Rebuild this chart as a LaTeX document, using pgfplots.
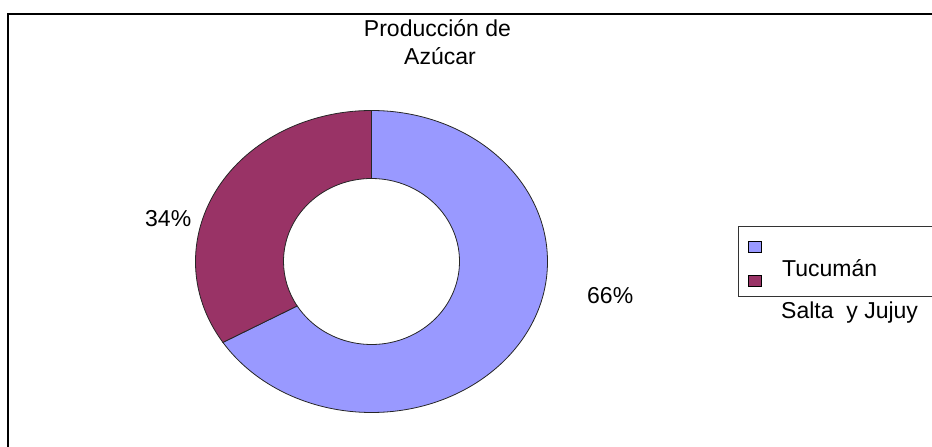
\documentclass[border=0pt]{standalone}
\usepackage{pgfplots}
\usepackage{pgfplotstable}
\pgfplotsset{compat=1.18}
\usetikzlibrary{calc}
\usepackage{fontspec}
\setmainfont{Liberation Sans}
\definecolor{tuc}{HTML}{9999FF}
\definecolor{salta}{HTML}{993366}
\pgfplotstableread{
name value
Tucuman 66
Salta 34
}\datatable
\begin{document}
\begin{tikzpicture}
\pgfplotstablegetelem{0}{value}\of\datatable \let\vA\pgfplotsretval
\pgfplotstablegetelem{1}{value}\of\datatable \let\vB\pgfplotsretval
\pgfmathsetmacro{\aStart}{90}
\pgfmathsetmacro{\aMid}{90-3.6*\vA}
\pgfmathsetmacro{\aEnd}{\aMid-3.6*\vB}
\begin{axis}[
  width=932bp, height=447bp, scale only axis,
  xmin=0, xmax=932, ymin=0, ymax=447,
  axis lines=none, clip=false,
]
\coordinate (bl) at (axis cs:0,0);
\coordinate (tr) at (axis cs:932,447);
\def\cx{371.5}\def\cy{185.5}
\def\ro{176}\def\rq{151}
\def\ri{88}\def\rj{83}
% Tucuman slice
\filldraw[fill=tuc, draw=black!85, line width=0.8pt]
  ($(axis cs:\cx,\cy)+(\aStart:{\ro bp} and {\rq bp})$)
  arc[start angle=\aStart, end angle=\aMid, x radius=\ro, y radius=\rq]
  -- ($(axis cs:\cx,\cy)+(\aMid:{\ri bp} and {\rj bp})$)
  arc[start angle=\aMid, end angle=\aStart, x radius=\ri, y radius=\rj]
  -- cycle;
% Salta slice
\filldraw[fill=salta, draw=black!85, line width=0.8pt]
  ($(axis cs:\cx,\cy)+(\aMid:{\ro bp} and {\rq bp})$)
  arc[start angle=\aMid, end angle=\aEnd, x radius=\ro, y radius=\rq]
  -- ($(axis cs:\cx,\cy)+(\aEnd:{\ri bp} and {\rj bp})$)
  arc[start angle=\aEnd, end angle=\aMid, x radius=\ri, y radius=\rj]
  -- cycle;
% frame
\draw[line width=2bp] (axis cs:8,0) -- (axis cs:8,433) -- (axis cs:932,433);
% legend box
\draw[line width=0.8bp, black!80] (axis cs:932,221) -- (axis cs:738,221) -- (axis cs:738,151) -- (axis cs:932,151);
\filldraw[fill=tuc, draw=black, line width=0.8bp] (axis cs:748,195) rectangle (axis cs:761,206);
\filldraw[fill=salta, draw=black, line width=0.8bp] (axis cs:748,161) rectangle (axis cs:761,172);
% texts
\node[anchor=base, inner sep=0pt, font=\fontsize{23bp}{28bp}\selectfont] at (axis cs:437.5,410) {Producción de};
\node[anchor=base, inner sep=0pt, font=\fontsize{23bp}{28bp}\selectfont] at (axis cs:440,382) {Azúcar};
\node[anchor=base west, inner sep=0pt, font=\fontsize{23bp}{28bp}\selectfont] at (axis cs:782,170) {Tucumán};
\node[anchor=base west, inner sep=0pt, font=\fontsize{23bp}{28bp}\selectfont] at (axis cs:781,128) {Salta~~y Jujuy};
\node[anchor=base west, inner sep=0pt, font=\fontsize{23bp}{28bp}\selectfont] at (axis cs:145,220) {34\%};
\node[anchor=base west, inner sep=0pt, font=\fontsize{23bp}{28bp}\selectfont] at (axis cs:587,143) {66\%};
\end{axis}
\pgfresetboundingbox
\path[use as bounding box] (bl) rectangle (tr);
\end{tikzpicture}
\end{document}
